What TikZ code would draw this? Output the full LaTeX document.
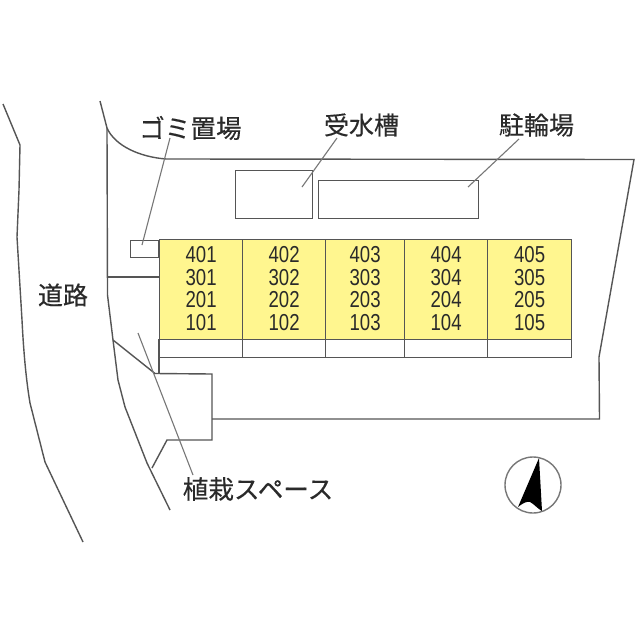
\documentclass[tikz,border=0pt]{standalone}
\usepackage{graphicx}
\usepackage{fontspec}
\setmainfont{Liberation Sans}
\newfontfamily\jpfont[FakeBold=0.35]{Noto Sans CJK JP}
\definecolor{linegray}{HTML}{555555}
\definecolor{leadgray}{HTML}{777777}
\definecolor{inktext}{HTML}{2A2A2A}
\definecolor{roomfill}{HTML}{FFF68F}
\newcommand{\roomnums}[4]{\raisebox{0pt}[\dimexpr\height+4.5pt\relax][\depth]{\scalebox{1}[1.24]{\fontsize{18.6}{17.5}\selectfont\begin{tabular}{@{}c@{}}#1\\#2\\#3\\#4\end{tabular}}}}
\tikzset{
  plan/.style={draw=linegray,line width=1.4pt,line join=miter},
  thinplan/.style={draw=linegray,line width=1.2pt},
  leader/.style={draw=leadgray,line width=1.1pt},
  jplabel/.style={font=\jpfont\fontsize{25}{28}\selectfont,text=inktext,inner sep=0pt,anchor=center},
  jpwide/.style={jplabel,font=\jpfont\fontsize{25.6}{28}\selectfont},
  room/.style={draw=linegray,line width=1.2pt,fill=roomfill,minimum height=100pt,inner sep=0pt,anchor=north west,align=center,text=inktext},
  strip/.style={draw=linegray,line width=1.2pt,fill=white,minimum height=18pt,inner sep=0pt,anchor=north west},
  facility/.style={draw=linegray,line width=1.2pt,inner sep=0pt,anchor=north west},
}
\begin{document}
\begin{tikzpicture}[x=1pt,y=-1pt]
\useasboundingbox (0,0) rectangle (640,640);
\fill[white] (0,0) rectangle (640,640);
% road edges
\draw[plan] (3,104) -- (20,145) -- (19,190) -- (17,237) -- (22,320) .. controls (24,360) and (27,385) .. (30,403) -- (45,462) -- (83,542);
\draw[plan] (100,101) -- (107,128) -- (107.5,295) -- (113,340) -- (118,380) -- (125,407) -- (147,463) -- (170,510);
% site boundary
\draw[plan] (107,128) .. controls (115,146) and (140,157) .. (166,159) -- (634,159.5) -- (599,357) -- (599.5,419) -- (212,419);
\draw[plan] (113,340) -- (155,373.5) -- (212,374) -- (212,440) -- (167,440) -- (152,468);
\draw[thinplan] (107,277) -- (159,277);
\draw[thinplan] (159,339) -- (159,374);
% facilities
\node[facility,minimum width=28pt,minimum height=17.5pt] (gomibox) at (130,239.5) {};
\node[facility,minimum width=77pt,minimum height=48pt] (waterbox) at (235,170) {};
\node[facility,minimum width=160pt,minimum height=38pt] (bikebox) at (318,180) {};
% rooms
\node[strip,minimum width=83pt] (s1) at (159,339) {};
\node[strip,minimum width=83pt] (s2) at (242,339) {};
\node[strip,minimum width=79pt] (s3) at (325,339) {};
\node[strip,minimum width=83pt] (s4) at (404,339) {};
\node[strip,minimum width=84pt] (s5) at (487,339) {};
\node[room,minimum width=83pt] (r1) at (159,239) {\roomnums{401}{301}{201}{101}};
\node[room,minimum width=83pt] (r2) at (242,239) {\roomnums{402}{302}{202}{102}};
\node[room,minimum width=79pt] (r3) at (325,239) {\roomnums{403}{303}{203}{103}};
\node[room,minimum width=83pt] (r4) at (404,239) {\roomnums{404}{304}{204}{104}};
\node[room,minimum width=84pt] (r5) at (487,239) {\roomnums{405}{305}{205}{105}};
% labels
\node[jpwide] (gomi) at (190.5,128) {ゴミ置場};
\node[jplabel] (water) at (361.5,125) {受水槽};
\node[jplabel] (bike) at (536.5,125) {駐輪場};
\node[jplabel] (road) at (63,295) {道路};
\node[jpwide] (plant) at (258,489) {植栽スペース};
% leaders
\coordinate (g0) at (170,138); \coordinate (g1) at (142,245);
\coordinate (w0) at (337,138); \coordinate (w1) at (302,187);
\coordinate (b0) at (519,139); \coordinate (b1) at (468,187);
\coordinate (p0) at (193,475); \coordinate (p1) at (138,333);
\draw[leader] (g0) -- (g1);
\draw[leader] (w0) -- (w1);
\draw[leader] (b0) -- (b1);
\draw[leader] (p0) -- (p1);
% compass
\node[draw=leadgray,line width=1.4pt,circle,minimum size=56pt,inner sep=0pt] (compass) at (533,485) {};
\fill[black] (539,458) -- (518,507) .. controls (523,503) and (527,501) .. (530,502) .. controls (534,504) and (538,509) .. (542,511) -- cycle;
\end{tikzpicture}
\end{document}
